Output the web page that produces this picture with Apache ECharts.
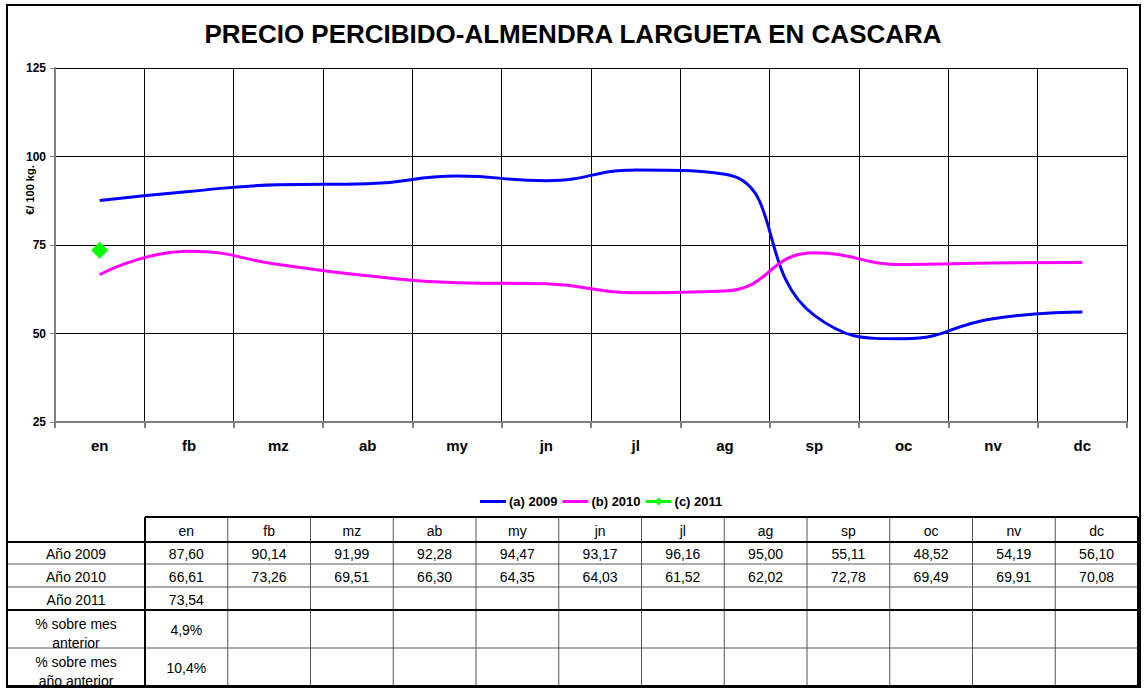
<!DOCTYPE html>
<html>
<head>
<meta charset="utf-8">
<script src="https://cdn.jsdelivr.net/npm/echarts@6/dist/echarts.min.js"></script>
<style>
  html, body { margin: 0; padding: 0; background: #fff; }
  #main { width: 1146px; height: 693px; }
</style>
</head>
<body>
<div id="main"></div>
<script type="text/javascript">
// datos del grafico
var months = ['en', 'fb', 'mz', 'ab', 'my', 'jn', 'jl', 'ag', 'sp', 'oc', 'nv', 'dc'];
var year2009 = [87.60, 90.14, 91.99, 92.28, 94.47, 93.17, 96.16, 95.00, 55.11, 48.52, 54.19, 56.10];
var year2010 = [66.61, 73.26, 69.51, 66.30, 64.35, 64.03, 61.52, 62.02, 72.78, 69.49, 69.91, 70.08];
var year2011 = [73.54];
var pctMesAnterior = [4.9];
var pctMesAnioAnterior = [10.4];
var seriesNames = ['(a) 2009', '(b) 2010', '(c) 2011'];
var rowLabels = ['Año 2009', 'Año 2010', 'Año 2011', '% sobre mes\nanterior', '% sobre mes\naño anterior'];

var FONT = 'Arial, "Liberation Sans", sans-serif';

function fmtNum(v) { return v == null ? '' : v.toFixed(2).replace('.', ','); }
function fmtPct(v) { return v == null ? '' : v.toFixed(1).replace('.', ',') + '%'; }

// tabla de datos debajo del grafico
function buildTable() {
    var left = 7, firstW = 138, colW = 82.75, top = 517;
    var rowH = [25, 22, 23, 23, 38, 38];
    var els = [];
    var ys = [top];
    for (var i = 0; i < rowH.length; i++) ys.push(ys[i] + rowH[i]);
    var right = left + firstW + colW * months.length;
    var colX = function (j) { return left + firstW + colW * j; };

    function line(x1, y1, x2, y2, w, c) {
        els.push({ type: 'line', silent: true, z: 10,
            shape: { x1: x1, y1: y1, x2: x2, y2: y2 },
            style: { stroke: c, lineWidth: w } });
    }
    function txt(s, x, y) {
        els.push({ type: 'text', silent: true, z: 11,
            style: { text: s, x: x, y: y, align: 'center', verticalAlign: 'middle',
                fontSize: 14, fontFamily: FONT, fill: '#000', lineHeight: 19 } });
    }

    // cabecera
    for (var j = 0; j < months.length; j++) {
        txt(months[j], colX(j) + colW / 2, (ys[0] + ys[1]) / 2 + 1);
    }
    var rows = [
        year2009.map(fmtNum),
        year2010.map(fmtNum),
        year2011.map(fmtNum),
        pctMesAnterior.map(fmtPct),
        pctMesAnioAnterior.map(fmtPct)
    ];
    for (var r = 0; r < rows.length; r++) {
        var cy = (ys[r + 1] + ys[r + 2]) / 2 + 1;
        txt(rowLabels[r], left + firstW / 2, r >= 3 ? cy + 3 : cy);
        for (var k = 0; k < rows[r].length; k++) {
            txt(rows[r][k], colX(k) + colW / 2, cy);
        }
    }
    // lineas internas finas
    [2, 3, 5].forEach(function (i) { line(left, ys[i], right, ys[i], 1, '#555'); });
    for (var c = 1; c < months.length; c++) line(colX(c), ys[0], colX(c), ys[6], 1, '#555');
    // lineas gruesas
    line(colX(0), ys[0], right, ys[0], 2, '#000');
    line(left, ys[1], right, ys[1], 2, '#000');
    line(left, ys[4], right, ys[4], 2, '#000');
    line(left, ys[6], right, ys[6], 2, '#000');
    line(colX(0), ys[0], colX(0), ys[6], 2, '#000');
    line(right, ys[0], right, ys[6], 2, '#000');
    line(left, ys[1], left, ys[6], 2, '#000');
    return els;
}

var myChart = echarts.init(document.getElementById('main'), null, { renderer: 'svg' });

var graphics = buildTable();
// marco exterior
graphics.push({ type: 'rect', silent: true, z: 12,
    shape: { x: 7, y: 5, width: 1133, height: 682 },
    style: { fill: 'none', stroke: '#000', lineWidth: 2 } });
// nombre del eje Y
graphics.push({ type: 'text', silent: true, x: 30, y: 190, rotation: Math.PI / 2,
    style: { text: '€/ 100 kg.', align: 'center', verticalAlign: 'middle',
        fontSize: 11, fontWeight: 'bold', fontFamily: FONT, fill: '#000' } });

var lineIcon = 'path://M0,0h0.01v0.01h-0.01z M0,4h26v3h-26z M26,10.99h0.01v0.01h-0.01z';
var diamondIcon = 'path://M0,4h26v3h-26z M13,1.5L17,5.5L13,9.5L9,5.5z M0,0h0.01v0.01h-0.01z M26,10.99h0.01v0.01h-0.01z';

var option = {
    animation: false,
    backgroundColor: '#fff',
    title: {
        text: 'PRECIO PERCIBIDO-ALMENDRA LARGUETA EN CASCARA',
        left: 'center',
        top: 16,
        textStyle: { fontSize: 26, fontWeight: 'bold', fontFamily: FONT, color: '#000' }
    },
    legend: {
        left: 475,
        top: 490,
        itemWidth: 26,
        itemHeight: 11,
        itemGap: 5,
        textStyle: { fontSize: 13, fontWeight: 'bold', fontFamily: FONT, color: '#000', padding: [0, 0, 0, -2] },
        data: [
            { name: seriesNames[0], icon: lineIcon },
            { name: seriesNames[1], icon: lineIcon },
            { name: seriesNames[2], icon: diamondIcon }
        ]
    },
    grid: { left: 55, right: 19, top: 68, bottom: 271, containLabel: false },
    xAxis: {
        type: 'category',
        data: months,
        boundaryGap: true,
        axisLine: { lineStyle: { color: '#808080', width: 2 } },
        axisTick: { show: true, length: 6, lineStyle: { color: '#808080', width: 2 } },
        axisLabel: { margin: 16, fontSize: 15, fontWeight: 'bold', fontFamily: FONT, color: '#000' },
        splitLine: { show: true, lineStyle: { color: '#000', width: 1 } }
    },
    yAxis: {
        type: 'value',
        min: 25,
        max: 125,
        interval: 25,
        axisLine: { show: true, lineStyle: { color: '#808080', width: 2 } },
        axisTick: { show: true, length: 5, lineStyle: { color: '#808080', width: 1 } },
        axisLabel: { margin: 9, fontSize: 12, fontWeight: 'bold', fontFamily: FONT, color: '#000' },
        splitLine: { show: true, lineStyle: { color: '#000', width: 1 } }
    },
    graphic: graphics,
    series: [
        {
            name: seriesNames[0], type: 'line', data: year2009,
            smooth: 0.5, symbol: 'none',
            itemStyle: { color: '#0000FF' },
            lineStyle: { color: '#0000FF', width: 3 }
        },
        {
            name: seriesNames[1], type: 'line', data: year2010,
            smooth: 0.5, symbol: 'none',
            itemStyle: { color: '#FF00FF' },
            lineStyle: { color: '#FF00FF', width: 3 }
        },
        {
            name: seriesNames[2], type: 'line', data: year2011,
            symbol: 'diamond', symbolSize: 17, showSymbol: true,
            itemStyle: { color: '#00FF00' },
            lineStyle: { color: '#00FF00', width: 3 }
        }
    ]
};

myChart.setOption(option);
</script>
</body>
</html>
